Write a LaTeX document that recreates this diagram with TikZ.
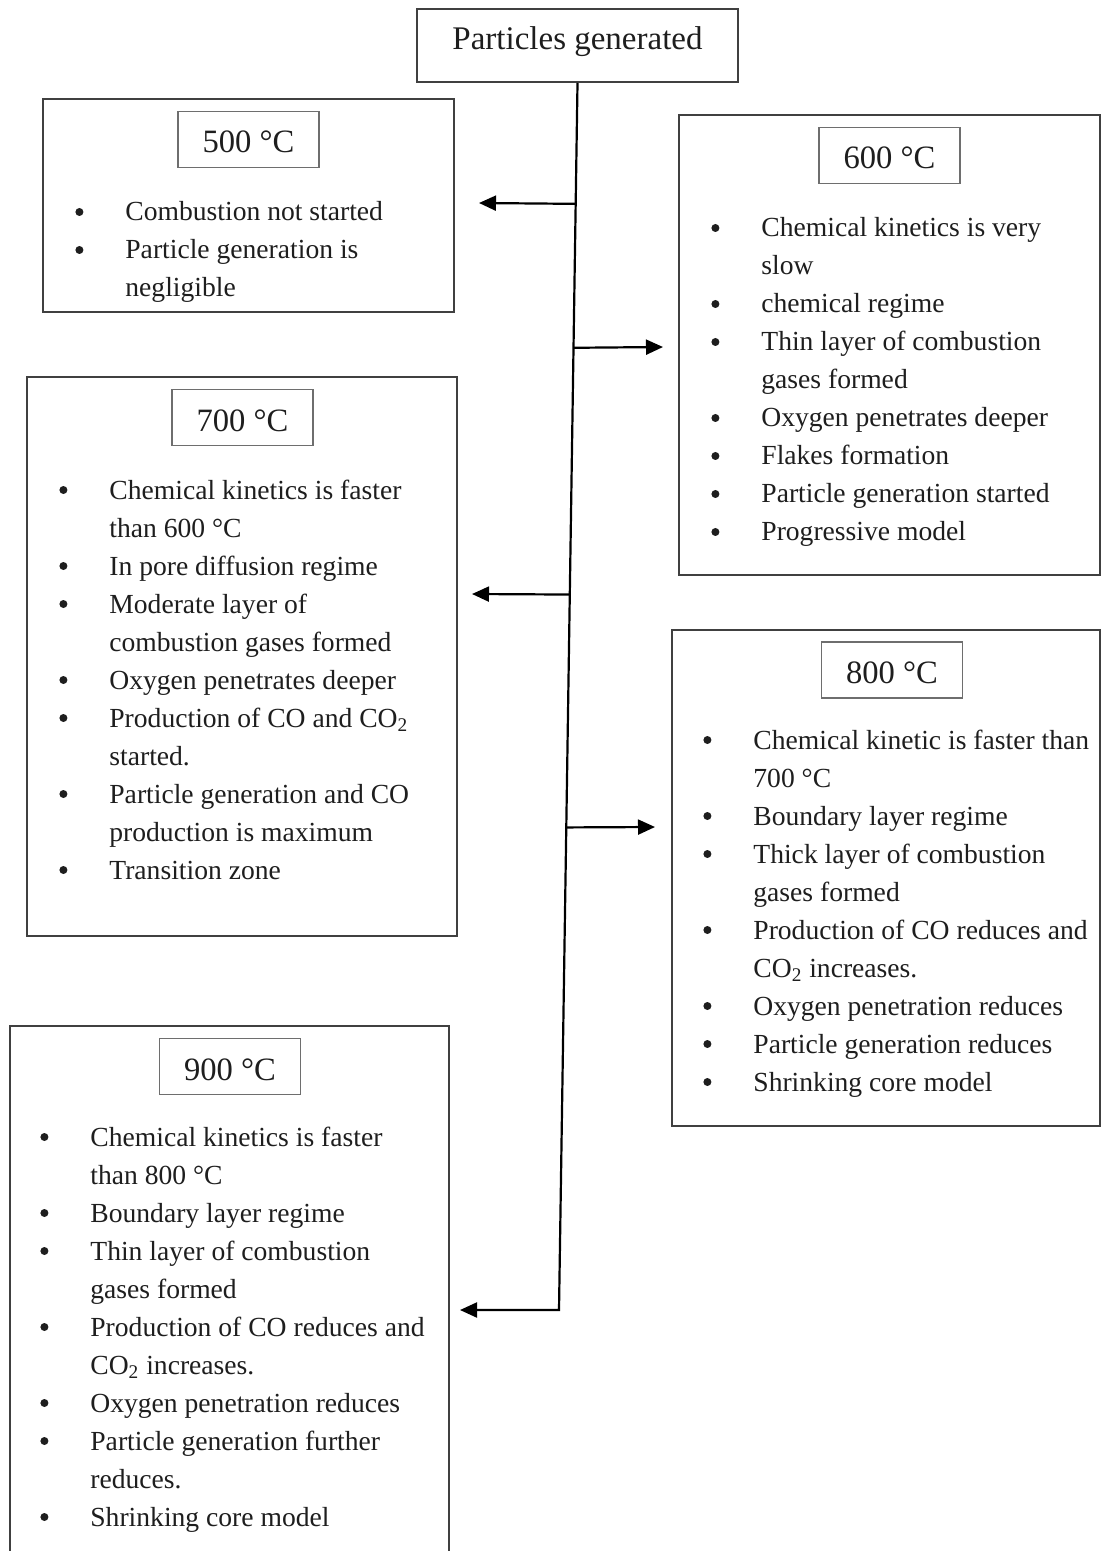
\documentclass[tikz,border=0pt]{standalone}
\usepackage{fontspec}
\setmainfont{Liberation Serif}
\usetikzlibrary{arrows.meta,calc}
\definecolor{boxline}{HTML}{404040}
\definecolor{tagline}{HTML}{6E6E6E}
\definecolor{ink}{HTML}{1E1E1E}
\newcommand\bulitem{\llap{\tikz[x=1pt,y=1pt,baseline=0pt]\fill[ink] (2,4.5) circle (2);\hspace{21pt}}}
\begin{document}
\begin{tikzpicture}[x=0.5pt,y=-0.5pt,
  outerbox/.style={draw=boxline,line width=1pt,rectangle,inner sep=0pt},
  titlebox/.style={draw=boxline,line width=1pt,rectangle,inner sep=0pt,
     minimum width=160.5pt,minimum height=36.5pt,
     font=\fontsize{16.5}{20}\selectfont,text=ink,text height=11pt,text depth=7.2pt},
  tagbox/.style={draw=tagline,line width=0.7pt,rectangle,inner sep=0pt,
     minimum width=70.5pt,minimum height=28pt,
     font=\fontsize{16.3}{20}\selectfont,text=ink,text height=13.5pt,text depth=0pt},
  listtext/.style={anchor=base west,inner sep=0pt,text=ink,
     font=\fontsize{13.8}{19}\selectfont},
  conn/.style={draw=black,line width=1.1pt},
  arr/.style={conn,-{Triangle[length=8.5pt,width=7.5pt]}}
]
\useasboundingbox (0,0) rectangle (1101,1551);
\clip (0,0) rectangle (1101,1551);
\fill[white] (0,0) rectangle (1101,1551);

% title
\node[titlebox] (top) at (577.5,45.5) {Particles generated};

% outer boxes
\node[outerbox,minimum width=205.5pt,minimum height=106.5pt] (b500) at (248.5,205.5) {};
\node[outerbox,minimum width=210.5pt,minimum height=230pt] (b600) at (889.5,345) {};
\node[outerbox,minimum width=215pt,minimum height=279.5pt] (b700) at (242,656.5) {};
\node[outerbox,minimum width=214pt,minimum height=248pt] (b800) at (886,878) {};
\node[outerbox,minimum width=219.5pt,minimum height=267pt] (b900) at (229.5,1293) {};

% temperature tags
\node[tagbox] (l500) at (248.5,139.5) {500 °C};
\node[tagbox] (l600) at (889.5,155.5) {600 °C};
\node[tagbox] (l700) at (242.5,417.5) {700 °C};
\node[tagbox] (l800) at (892,670) {800 °C};
\node[tagbox] (l900) at (230,1066.5) {900 °C};

% lists
\node[listtext] (t500) at (125,221) {\begin{tabular}[t]{@{}l@{}}
\bulitem Combustion not started\\
\bulitem Particle generation is\\
negligible
\end{tabular}};

\node[listtext] (t600) at (761,237) {\begin{tabular}[t]{@{}l@{}}
\bulitem Chemical kinetics is very\\
slow\\
\bulitem chemical regime\\
\bulitem Thin layer of combustion\\
gases formed\\
\bulitem Oxygen penetrates deeper\\
\bulitem Flakes formation\\
\bulitem Particle generation started\\
\bulitem Progressive model
\end{tabular}};

\node[listtext] (t700) at (109,499) {\begin{tabular}[t]{@{}l@{}}
\bulitem Chemical kinetics is faster\\
than 600 °C\\
\bulitem In pore diffusion regime\\
\bulitem Moderate layer of\\
combustion gases formed\\
\bulitem Oxygen penetrates deeper\\
\bulitem Production of CO and CO\textsubscript{2}\\
started.\\
\bulitem Particle generation and CO\\
production is maximum\\
\bulitem Transition zone
\end{tabular}};

\node[listtext] (t800) at (753,749) {\begin{tabular}[t]{@{}l@{}}
\bulitem Chemical kinetic is faster than\\
700 °C\\
\bulitem Boundary layer regime\\
\bulitem Thick layer of combustion\\
gases formed\\
\bulitem Production of CO reduces and\\
CO\textsubscript{2} increases.\\
\bulitem Oxygen penetration reduces\\
\bulitem Particle generation reduces\\
\bulitem Shrinking core model
\end{tabular}};

\node[listtext] (t900) at (90,1146) {\begin{tabular}[t]{@{}l@{}}
\bulitem Chemical kinetics is faster\\
than 800 °C\\
\bulitem Boundary layer regime\\
\bulitem Thin layer of combustion\\
gases formed\\
\bulitem Production of CO reduces and\\
CO\textsubscript{2} increases.\\
\bulitem Oxygen penetration reduces\\
\bulitem Particle generation further\\
reduces.\\
\bulitem Shrinking core model
\end{tabular}};

% connectors
\coordinate (bend) at (559,1310);
\coordinate (j1) at ($(top.south)!0.0985!(bend)$);
\coordinate (j2) at ($(top.south)!0.2158!(bend)$);
\coordinate (j3) at ($(top.south)!0.4169!(bend)$);
\coordinate (j4) at ($(top.south)!0.6067!(bend)$);
\coordinate (a1) at (479,203);
\coordinate (a2) at (663,347);
\coordinate (a3) at (472,594);
\coordinate (a4) at (655,827);
\coordinate (a5) at (460,1310);

\draw[arr] (top.south) -- (bend) -- (a5);
\draw[arr] (j1) -- (a1);
\draw[arr] (j2) -- (a2);
\draw[arr] (j3) -- (a3);
\draw[arr] (j4) -- (a4);
\end{tikzpicture}
\end{document}
